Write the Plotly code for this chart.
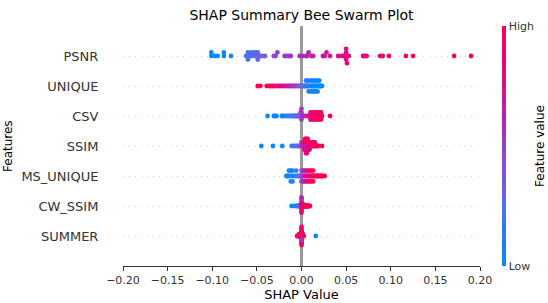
import numpy as np
import plotly.graph_objects as go

# ---------------- data ----------------
features = ["PSNR", "UNIQUE", "CSV", "SSIM", "MS_UNIQUE", "CW_SSIM", "SUMMER"]  # top -> bottom
x_ticks = [-0.20, -0.15, -0.10, -0.05, 0.00, 0.05, 0.10, 0.15, 0.20]

psnr_shap = [-0.101, -0.101, -0.097, -0.094, -0.087, -0.087, -0.079,
             -0.062, -0.060, -0.060, -0.060, -0.057, -0.056, -0.055, -0.053, -0.052, -0.051, -0.049, -0.049,
             -0.049, -0.046, -0.044, -0.041,
             -0.031, -0.029, -0.027, -0.019, -0.017, -0.014, -0.012, -0.002,
             0.001, 0.005, 0.006, 0.008, 0.011, 0.013,
             0.024, 0.026, 0.028, 0.032,
             0.041, 0.045, 0.047, 0.049, 0.050, 0.050, 0.050, 0.051, 0.053,
             0.069, 0.071, 0.073, 0.088, 0.091, 0.098, 0.117, 0.125, 0.171, 0.190]
psnr_val = [0.02, 0.03, 0.04, 0.05, 0.03, 0.06, 0.08,
            0.20, 0.22, 0.24, 0.22, 0.26, 0.25, 0.28, 0.27, 0.30, 0.26, 0.31, 0.29, 0.33, 0.32, 0.35, 0.36,
            0.44, 0.46, 0.47, 0.50, 0.51, 0.52, 0.54, 0.56,
            0.58, 0.60, 0.61, 0.62, 0.64, 0.65,
            0.70, 0.71, 0.72, 0.74,
            0.76, 0.77, 0.78, 0.79, 0.80, 0.80, 0.81, 0.82, 0.83,
            0.86, 0.87, 0.88, 0.90, 0.91, 0.92, 0.94, 0.95, 0.98, 1.00]

unique_shap = [-0.049, -0.046, -0.039, -0.036, -0.034, -0.032, -0.030,
               -0.027, -0.025, -0.023, -0.021, -0.019, -0.017,
               -0.015, -0.013, -0.012, -0.010, -0.009, -0.007, -0.006, -0.004, -0.003, -0.001,
               0.000, 0.002, 0.003, 0.004, 0.005, 0.005, 0.006, 0.006, 0.007,
               0.008, 0.008, 0.008, 0.010, 0.010, 0.010, 0.011, 0.012, 0.012, 0.012,
               0.013, 0.014, 0.014, 0.014, 0.015, 0.016, 0.016, 0.016, 0.017,
               0.018, 0.018, 0.018, 0.019, 0.020, 0.020, 0.021, 0.022, 0.023]
unique_val = [1.00, 0.98, 0.96, 0.95, 0.93, 0.92, 0.90,
              0.86, 0.84, 0.82, 0.80, 0.78, 0.75,
              0.66, 0.63, 0.60, 0.58, 0.55, 0.52, 0.50, 0.46, 0.42, 0.38,
              0.32, 0.28, 0.25, 0.22, 0.20, 0.18, 0.15, 0.14, 0.12,
              0.10, 0.12, 0.08, 0.10, 0.06, 0.08, 0.05, 0.09, 0.04, 0.07,
              0.03, 0.06, 0.02, 0.05, 0.04, 0.03, 0.02, 0.05, 0.01,
              0.03, 0.02, 0.04, 0.01, 0.02, 0.00, 0.03, 0.01, 0.00]

csv_shap = [-0.038, -0.031, -0.030, -0.028, -0.022, -0.021, -0.019, -0.017, -0.015, -0.013, -0.011,
            -0.010, -0.009, -0.008, -0.007, -0.006, -0.005, -0.004, -0.003, -0.002, -0.001, -0.001,
            0.000, 0.000, 0.000, 0.000,
            0.002, 0.004, 0.006, 0.008,
            0.009, 0.010, 0.010, 0.010, 0.011, 0.012, 0.012, 0.012, 0.013, 0.014,
            0.014, 0.014, 0.015, 0.016, 0.016, 0.016, 0.017, 0.018, 0.018, 0.018,
            0.019, 0.020, 0.020, 0.020, 0.021, 0.022, 0.022, 0.022, 0.023,
            0.032]
csv_val = [0.00, 0.02, 0.03, 0.04, 0.05, 0.06, 0.08, 0.10, 0.12, 0.14, 0.16,
           0.20, 0.22, 0.25, 0.28, 0.30, 0.32, 0.35, 0.38, 0.40, 0.42, 0.45,
           0.48, 0.50, 0.52, 0.55,
           0.60, 0.62, 0.66, 0.70,
           0.74, 0.80, 0.76, 0.85, 0.78, 0.90, 0.82, 0.95, 0.84, 0.88,
           0.92, 0.86, 0.96, 0.80, 0.90, 0.94, 0.98, 0.85, 0.92, 0.97,
           0.88, 1.00, 0.93, 0.96, 0.90, 0.99, 0.95, 0.97, 0.98,
           1.00]

ssim_shap = [-0.045, -0.032, -0.0215,
             -0.011, -0.009, -0.007, -0.005, -0.004, -0.002,
             -0.001, 0.000, 0.000, 0.001, 0.001, 0.002,
             0.002, 0.003, 0.003, 0.003, 0.004, 0.004, 0.004, 0.004, 0.005, 0.005,
             0.005, 0.005, 0.005, 0.006, 0.006, 0.006, 0.006, 0.006, 0.007, 0.007,
             0.007, 0.007, 0.008, 0.008, 0.008, 0.009, 0.009, 0.009, 0.010, 0.010,
             0.011, 0.011, 0.012, 0.012, 0.013, 0.013, 0.014, 0.014, 0.015, 0.015,
             0.016, 0.017, 0.018, 0.019,
             0.023]
ssim_val = [0.00, 0.02, 0.05,
            0.15, 0.20, 0.25, 0.30, 0.35, 0.40,
            0.45, 0.48, 0.50, 0.52, 0.55, 0.58,
            0.62, 0.70, 0.85, 0.95, 0.65, 0.90, 0.78, 1.00, 0.60, 0.88,
            0.72, 0.96, 0.82, 0.68, 0.92, 0.75, 0.98, 0.86, 0.80, 0.94,
            0.70, 0.99, 0.84, 0.90, 0.76, 0.97, 0.88, 0.93, 0.85, 0.95,
            0.90, 0.98, 0.87, 0.96, 0.92, 1.00, 0.89, 0.97, 0.94, 0.99,
            0.93, 0.96, 0.98, 1.00,
            1.00]

ms_unique_shap = [-0.017, -0.016, -0.015, -0.014, -0.014, -0.012, -0.012, -0.012,
                  -0.010, -0.010, -0.010, -0.008, -0.006, -0.006, -0.004, -0.003,
                  -0.002, -0.001, 0.000, 0.000, 0.000, 0.001, 0.002, 0.002, 0.002, 0.003, 0.003, 0.003,
                  0.004, 0.005, 0.005, 0.005, 0.006, 0.007, 0.007, 0.007, 0.008, 0.009,
                  0.009, 0.009, 0.010, 0.011, 0.011, 0.011, 0.012, 0.013, 0.013, 0.013,
                  0.014, 0.015, 0.016, 0.017, 0.018, 0.019, 0.020, 0.021,
                  0.022, 0.023, 0.024, 0.026]
ms_unique_val = [0.00, 0.02, 0.05, 0.03, 0.08, 0.06, 0.10, 0.04, 0.12, 0.07,
                 0.14, 0.09, 0.16, 0.18, 0.20, 0.22,
                 0.30, 0.35, 0.38, 0.42, 0.45, 0.48, 0.50, 0.52, 0.55, 0.58, 0.60, 0.62,
                 0.66, 0.72, 0.70, 0.78, 0.75, 0.82, 0.80, 0.86, 0.84, 0.90,
                 0.88, 0.92, 0.90, 0.95, 0.93, 0.96, 0.94, 0.98, 0.96, 1.00,
                 0.97, 0.95, 0.98, 0.99, 1.00, 0.97, 0.99, 1.00,
                 0.98, 1.00, 0.99, 1.00]

cw_ssim_shap = [-0.011, -0.0075, -0.0055, -0.0045, -0.0035, -0.003, -0.0025, -0.002, -0.0015, -0.001,
                -0.0008, -0.0006, -0.0004, -0.0004, -0.0002, -0.0002, 0.0, 0.0, 0.0, 0.0,
                0.0, 0.0, 0.0, 0.0, 0.0002, 0.0002, 0.0004, 0.0004, 0.0006, 0.0008,
                0.001, 0.001, 0.0012, 0.0014, 0.0016, 0.0018, 0.002, 0.0022, 0.0025, 0.0028,
                0.003, 0.0032, 0.0035, 0.0038, 0.004, 0.0042, 0.0045, 0.0048, 0.005, 0.0052,
                0.0055, 0.0058, 0.006, 0.0063, 0.0066, 0.007, 0.0075, 0.008, 0.0088, 0.0095]
cw_ssim_val = [0.00, 0.05, 0.08, 0.15, 0.20, 0.25, 0.30, 0.35, 0.40, 0.42,
               0.45, 0.48, 0.50, 0.52, 0.55, 0.58, 0.90, 0.60, 0.95, 0.50,
               1.00, 0.55, 0.92, 0.62, 0.65, 0.85, 0.68, 0.90, 0.70, 0.95,
               0.72, 0.98, 0.75, 0.90, 0.78, 1.00, 0.80, 0.95, 0.82, 0.97,
               0.85, 0.99, 0.86, 0.94, 0.88, 1.00, 0.90, 0.96, 0.92, 0.98,
               0.93, 1.00, 0.95, 0.97, 0.96, 0.99, 0.98, 1.00, 0.99, 1.00]

summer_shap = [-0.005, -0.004, -0.0035, -0.003, -0.0028, -0.0025, -0.0022, -0.002, -0.0018, -0.0016,
               -0.0014, -0.0012, -0.001, -0.001, -0.0008, -0.0008, -0.0006, -0.0006, -0.0004, -0.0004,
               -0.0004, -0.0002, -0.0002, -0.0002, -0.0002, 0.0, 0.0, 0.0, 0.0, 0.0,
               0.0, 0.0, 0.0, 0.0, 0.0, 0.0002, 0.0002, 0.0002, 0.0002, 0.0004,
               0.0004, 0.0004, 0.0006, 0.0006, 0.0008, 0.0008, 0.001, 0.001, 0.0012, 0.0014,
               0.0016, 0.0018, 0.002, 0.0022, 0.0025, -0.0003, 0.0003, -0.0001, 0.0001, 0.016]
summer_val = [0.95, 0.98, 1.00, 0.92, 0.96, 0.99, 0.94, 0.97, 1.00, 0.93,
              0.98, 0.95, 0.99, 0.92, 1.00, 0.96, 0.94, 0.98, 0.90, 0.97,
              1.00, 0.93, 0.96, 0.99, 0.91, 0.95, 0.98, 0.60, 1.00, 0.94,
              0.97, 0.55, 0.99, 0.92, 0.96, 0.98, 0.93, 1.00, 0.95, 0.97,
              0.99, 0.94, 0.98, 0.96, 1.00, 0.93, 0.97, 0.95, 0.99, 0.98,
              0.96, 1.00, 0.97, 0.94, 0.99, 0.92, 0.98, 0.50, 0.95, 0.05]

shap_lists = [psnr_shap, unique_shap, csv_shap, ssim_shap, ms_unique_shap, cw_ssim_shap, summer_shap]
val_lists = [psnr_val, unique_val, csv_val, ssim_val, ms_unique_val, cw_ssim_val, summer_val]

# shap-like red/blue colour map
red_blue = [[0.0, "rgb(0,139,251)"], [0.2, "rgb(60,120,242)"], [0.35, "rgb(115,95,225)"],
            [0.5, "rgb(152,62,200)"], [0.65, "rgb(190,30,170)"], [0.8, "rgb(225,10,130)"],
            [1.0, "rgb(255,0,81)"]]


def swarm_offsets(shaps, row_height=0.4, nbins=100):
    """Bee-swarm offsets in the style of shap.summary_plot."""
    s = np.asarray(shaps, float)
    n = len(s)
    quant = np.round(nbins * (s - s.min()) / (s.max() - s.min() + 1e-8))
    inds = np.lexsort((np.arange(n), quant))
    ys = np.zeros(n)
    layer, last = 0, None
    for i in inds:
        if quant[i] != last:
            layer = 0
        ys[i] = np.ceil(layer / 2) * ((layer % 2) * 2 - 1)
        layer += 1
        last = quant[i]
    ys *= 0.9 * (row_height / np.max(ys + 1))
    return ys


n_feat = len(features)
xs, ys, cs = [], [], []
for k, (sv, fv) in enumerate(zip(shap_lists, val_lists)):
    pos = n_feat - 1 - k
    off = swarm_offsets(sv)
    xs.extend(sv)
    ys.extend(pos + off)
    cs.extend(fv)

FONT = "DejaVu Sans"
fig = go.Figure()
fig.add_trace(go.Scatter(
    x=xs, y=ys, mode="markers",
    marker=dict(size=4.8, color=cs, colorscale=red_blue, cmin=0, cmax=1,
                line=dict(width=0),
                colorbar=dict(x=1.0616, xanchor="left", y=0.5, yanchor="middle",
                              len=1.0, lenmode="fraction", thickness=3.5, thicknessmode="pixels",
                              outlinewidth=0, tickvals=[0, 1], ticktext=["Low", "High"],
                              ticks="", ypad=0, xpad=0,
                              tickfont=dict(family=FONT, size=11, color="#333333"))),
    showlegend=False, hoverinfo="skip"))

fig.update_layout(
    width=548, height=303,
    margin=dict(l=123, r=68, t=26, b=37, autoexpand=False),
    paper_bgcolor="white", plot_bgcolor="white",
    font=dict(family=FONT, color="#333333"),
    title=dict(text="SHAP Summary Bee Swarm Plot", x=0.5, xref="paper", xanchor="center",
               y=1 - 15 / 303, yref="container", yanchor="middle",
               font=dict(family=FONT, size=14, color="black")),
    xaxis=dict(range=[-0.2, 0.2], tickvals=x_ticks, tickformat=".2f", automargin=False,
               ticks="outside", ticklen=4, tickwidth=1, tickcolor="#333333",
               showline=True, linecolor="#333333", linewidth=1, showgrid=False,
               zeroline=True, zerolinecolor="#999999", zerolinewidth=2.5,
               tickfont=dict(family=FONT, size=11, color="#333333"),
               title=dict(text="SHAP Value", standoff=1,
                          font=dict(family=FONT, size=13, color="black"))),
    yaxis=dict(range=[-1, n_feat], tickvals=list(range(n_feat)), ticktext=features[::-1],
               automargin=False,
               showgrid=True, gridcolor="#cccccc", gridwidth=1, griddash="1px,5px",
               zeroline=False, showline=False,
               ticks="outside", ticklen=21, tickcolor="rgba(0,0,0,0)",
               tickfont=dict(family=FONT, size=13, color="#333333")),
    annotations=[
        dict(text="Features", x=(8 - 123) / 357, y=0.5, xref="paper", yref="paper",
             textangle=-90, showarrow=False, xanchor="center", yanchor="middle",
             font=dict(family=FONT, size=12, color="black")),
        dict(text="Feature value", x=(540 - 123) / 357, y=0.5, xref="paper", yref="paper",
             textangle=-90, showarrow=False, xanchor="center", yanchor="middle",
             font=dict(family=FONT, size=12, color="black")),
    ],
)

# remove the browser's default 8px page margin so the figure sits at the window origin
fig.write_html("out.html", config={"displayModeBar": False},
               post_script="document.body.style.margin='0';")
